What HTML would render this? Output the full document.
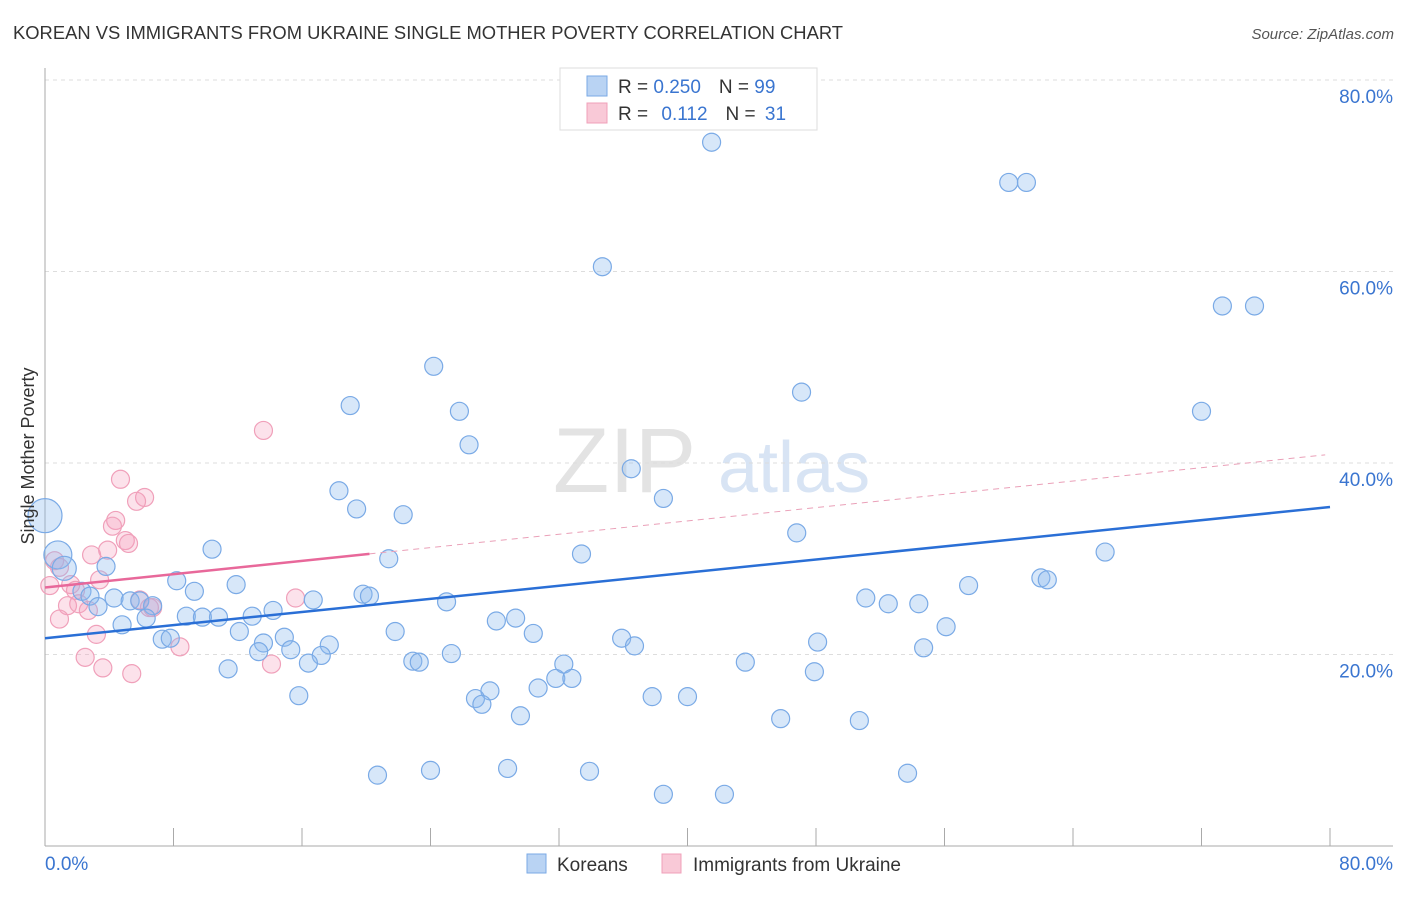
<!DOCTYPE html>
<html><head><meta charset="utf-8">
<style>
body{margin:0;background:#fff;font-family:"Liberation Sans",sans-serif;}
svg text{font-family:"Liberation Sans",sans-serif;}
</style></head>
<body>
<svg id="chart" width="1406" height="892" viewBox="0 0 1406 892" xmlns="http://www.w3.org/2000/svg">
<text x="13" y="39" font-size="18" fill="#333" textLength="830" lengthAdjust="spacingAndGlyphs">KOREAN VS IMMIGRANTS FROM UKRAINE SINGLE MOTHER POVERTY CORRELATION CHART</text>
<text x="1394" y="39" font-size="15" fill="#555" text-anchor="end" font-style="italic">Source: ZipAtlas.com</text>
<g>
<text x="553" y="492" font-size="92" fill="#e3e3e3" font-family="Liberation Serif,serif">ZIP</text>
<text x="718" y="492" font-size="72" fill="#d8e4f4">atlas</text>
</g>
<g id="grid"></g>
<g id="axes"></g>
<g id="pinkpts"></g>
<g id="bluepts"></g>
<g id="lines"></g>
<text transform="translate(34,456) rotate(-90)" font-size="18" fill="#333" text-anchor="middle">Single Mother Poverty</text>
<g>
<rect x="560" y="68" width="257" height="62" fill="#fff" stroke="#ddd"/>
<rect x="587" y="76" width="20" height="20" fill="#b9d3f3" stroke="#7aaae6"/>
<rect x="587" y="103" width="20" height="20" fill="#f9c9d7" stroke="#f0a0ba"/>
<text x="618" y="93" font-size="19" fill="#333">R = <tspan fill="#3a75d0">0.250</tspan><tspan dx="18">N = </tspan><tspan fill="#3a75d0">99</tspan></text>
<text x="618" y="120" font-size="19" fill="#333">R = <tspan dx="8" fill="#3a75d0">0.112</tspan><tspan dx="18">N = </tspan><tspan dx="4" fill="#3a75d0">31</tspan></text>
</g>
<g>
<rect x="527" y="854" width="19" height="19" fill="#b9d3f3" stroke="#7aaae6"/>
<text x="557" y="871" font-size="19" fill="#333">Koreans</text>
<rect x="662" y="854" width="19" height="19" fill="#f9c9d7" stroke="#f0a0ba"/>
<text x="693" y="871" font-size="19" fill="#333">Immigrants from Ukraine</text>
</g>
</svg>
<script>
const koreanX=[41.5,60.0,61.1,34.7,73.3,75.3,24.2,47.1,19.0,25.8,72.0,26.4,36.5,18.3,38.5,19.4,22.3,0,46.8,0.8,66.0,33.4,10.4,21.4,1.2,3.8,57.5,62.0,62.4,8.2,11.9,9.3,2.3,2.8,4.3,5.3,5.9,6.7,3.3,19.8,20.2,16.7,25.0,51.1,52.5,54.4,14.2,8.8,9.8,10.8,12.9,6.3,4.8,28.1,29.3,56.1,12.1,21.8,30.4,7.3,7.8,14.9,13.6,35.9,48.1,36.7,17.7,15.3,13.3,54.7,17.2,25.3,16.4,22.9,23.3,43.6,32.3,11.4,47.9,31.8,32.8,30.7,27.7,15.8,37.8,40.0,26.8,27.2,29.6,45.8,50.7,20.7,24.0,28.8,33.9,53.7,38.5,42.3];
const koreanY=[73.5,69.3,69.3,60.5,56.4,56.4,50.1,47.4,46.0,45.4,45.4,41.9,39.4,37.1,36.3,35.2,34.6,34.5,32.7,30.4,30.7,30.5,31.0,30.0,29.0,29.2,27.2,28.0,27.8,27.7,27.3,26.6,26.6,26.1,25.9,25.6,25.6,25.1,25.0,26.3,26.1,25.7,25.5,25.9,25.3,25.3,24.6,24.0,23.9,23.9,24.0,23.8,23.1,23.5,23.8,22.9,22.4,22.4,22.2,21.6,21.7,21.8,21.2,21.7,21.3,20.9,21.0,20.5,20.3,20.7,19.9,20.1,19.1,19.3,19.2,19.2,19.0,18.5,18.2,17.5,17.5,16.5,16.2,15.7,15.6,15.6,15.4,14.8,13.6,13.3,13.1,7.4,7.9,8.1,7.8,7.6,5.4,5.4];
const koreanBig={17:17,19:14,24:12};
const ukraineX=[13.6,4.7,6.2,5.7,4.4,4.2,5.0,5.2,3.9,2.9,0.6,0.9,0.3,3.4,1.6,1.9,15.6,5.9,6.5,1.4,2.1,2.7,0.9,3.2,8.4,2.5,3.6,14.1,5.4,6.7];
const ukraineY=[43.4,38.3,36.4,36.0,34.0,33.4,31.9,31.6,30.9,30.4,29.8,29.1,27.2,27.8,27.3,26.7,25.9,25.7,24.9,25.1,25.3,24.6,23.7,22.1,20.8,19.7,18.6,19.0,18.0,24.9];
const koreanTrend=[21.7,35.4];
const ukraineTrend=[27.0,40.9];
const xTicks=[0,8,16,24,32,40,48,56,64,72,80];
const yTicks=[20,40,60,80];
const yTickLabels=["20.0%","40.0%","60.0%","80.0%"];

const X=v=>45+v/80*1285;
const Y=v=>846-v/20*191.5;
const NS="http://www.w3.org/2000/svg";
function mk(tag,attrs,parent){const e=document.createElementNS(NS,tag);for(const k in attrs)e.setAttribute(k,attrs[k]);parent.appendChild(e);return e;}
const grid=document.getElementById('grid'),axes=document.getElementById('axes');
yTicks.forEach((t,i)=>{
 const l=mk('line',{x1:45,x2:1393,y1:Y(t),y2:Y(t),stroke:'#ddd','stroke-dasharray':'4,4'},grid);
 
 
 const tx=mk('text',{x:1393,y:Y(t)+23,'font-size':19,fill:'#3a75d0','text-anchor':'end'},axes);
 tx.textContent=yTickLabels[i];
 
 
});
mk('line',{x1:45,x2:45,y1:68,y2:846,stroke:'#aaa'},axes);
mk('line',{x1:45,x2:1393,y1:846,y2:846,stroke:'#aaa'},axes);
xTicks.forEach(t=>{
 const l=mk('line',{x1:X(t),x2:X(t),y1:828,y2:846,stroke:'#aaa'},axes);
 
 
});
const x0=mk('text',{x:45,y:870,'font-size':19,fill:'#3a75d0'},axes);x0.textContent='0.0%';


const x1=mk('text',{x:1393,y:870,'font-size':19,fill:'#3a75d0','text-anchor':'end'},axes);x1.textContent='80.0%';



const pp=document.getElementById('pinkpts');
ukraineX.forEach((v,i)=>{
 const c=mk('circle',{cx:X(v),cy:Y(ukraineY[i]),r:9,fill:'rgba(244,160,188,0.3)',stroke:'#f0a0ba','stroke-width':1.2},pp);
 
 
});
const bp=document.getElementById('bluepts');
koreanX.forEach((v,i)=>{
 const c=mk('circle',{cx:X(v),cy:Y(koreanY[i]),r:koreanBig[i]||9,fill:'rgba(140,185,238,0.35)',stroke:'#7aaae6','stroke-width':1.2},bp);
 
 
});
const ln=document.getElementById('lines');
const bl=mk('line',{x1:X(0),y1:Y(koreanTrend[0]),x2:X(80),y2:Y(koreanTrend[1]),stroke:'#2a6fd6','stroke-width':2.5},ln);


const pv=x=>ukraineTrend[0]+(ukraineTrend[1]-ukraineTrend[0])*x/80;
const pl=mk('line',{x1:X(0),y1:Y(pv(0)),x2:X(20.2),y2:Y(pv(20.2)),stroke:'#e8689a','stroke-width':2.5},ln);


const pd=mk('line',{x1:X(20.2),y1:Y(pv(20.2)),x2:X(79.7),y2:Y(pv(79.7)),stroke:'#eaa0b8','stroke-width':1,'stroke-dasharray':'6,5'},ln);


</script>
</body></html>
